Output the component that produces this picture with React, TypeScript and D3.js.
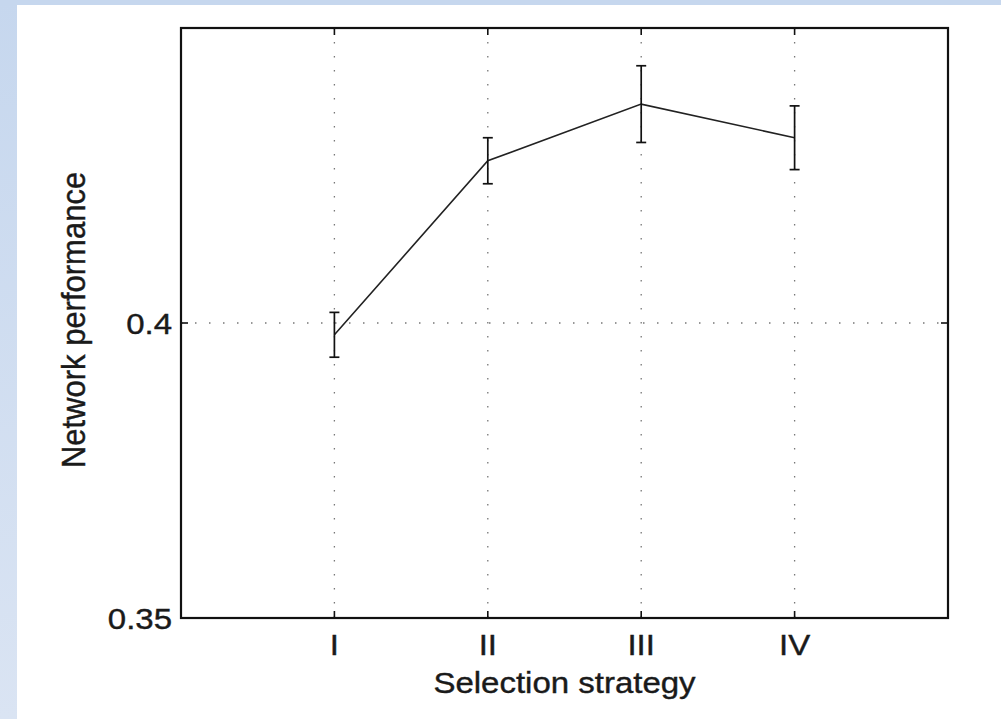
import React, { useEffect, useRef } from "react";
import * as d3 from "d3";

// selection strategies along the x axis
const categories = ["I", "II", "III", "IV"];
// mean network performance per strategy
const means = [0.398, 0.4275, 0.4371, 0.4314];
// half-length of each error bar
const errors = [0.0038, 0.0039, 0.0065, 0.0054];
const yTicks = [0.35, 0.4];
const yTickLabels = ["0.35", "0.4"];

const W = 1001,
  H = 719;

const App = () => {
  const ref = useRef<SVGSVGElement>(null);

  useEffect(() => {
    const svg = d3.select(ref.current);
    svg.selectAll("*").remove();

    const left = 181,
      right = 948,
      top = 28,
      bottom = 618;
    const font = "'Liberation Sans', Arial, Helvetica, sans-serif";
    const stretch = 1.1; // source picture is a bit wider than tall

    // blue frame round the figure
    const defs = svg.append("defs");
    const grad = defs
      .append("linearGradient")
      .attr("id", "frame")
      .attr("x1", 0)
      .attr("y1", 0)
      .attr("x2", 0)
      .attr("y2", 1);
    grad.append("stop").attr("offset", "0%").attr("stop-color", "#c6d7ee");
    grad.append("stop").attr("offset", "100%").attr("stop-color", "#dae4f3");

    svg.append("rect").attr("width", W).attr("height", H).attr("fill", "#fff");
    svg.append("rect").attr("width", 17).attr("height", H).attr("fill", "url(#frame)");
    svg.append("rect").attr("width", W).attr("height", 5).attr("fill", "#c6d7ee");

    const x = d3.scaleLinear().domain([0, 5]).range([left, right]);
    const y = d3.scaleLinear().domain([0.35, 0.45]).range([bottom, top]);
    const xs = categories.map((c, i) => i + 1);

    // dotted grid
    const grid = svg
      .append("g")
      .attr("stroke", "#777")
      .attr("stroke-width", 1.3)
      .attr("stroke-dasharray", "1.5 12.5");
    grid
      .selectAll(".gx")
      .data(xs)
      .enter()
      .append("line")
      .attr("x1", (d) => x(d))
      .attr("x2", (d) => x(d))
      .attr("y1", top)
      .attr("y2", bottom);
    grid
      .selectAll(".gy")
      .data(yTicks.filter((t) => t > 0.35))
      .enter()
      .append("line")
      .attr("x1", left)
      .attr("x2", right)
      .attr("y1", (d) => y(d))
      .attr("y2", (d) => y(d));

    // ticks on all four sides, pointing in
    const ticks = svg.append("g").attr("stroke", "#111").attr("stroke-width", 1.6);
    xs.forEach((d) => {
      ticks.append("line").attr("x1", x(d)).attr("x2", x(d)).attr("y1", bottom).attr("y2", bottom - 7);
      ticks.append("line").attr("x1", x(d)).attr("x2", x(d)).attr("y1", top).attr("y2", top + 7);
    });
    yTicks.forEach((d) => {
      ticks.append("line").attr("x1", left).attr("x2", left + 7).attr("y1", y(d)).attr("y2", y(d));
      ticks.append("line").attr("x1", right).attr("x2", right - 7).attr("y1", y(d)).attr("y2", y(d));
    });

    // axes box
    svg
      .append("rect")
      .attr("x", left)
      .attr("y", top)
      .attr("width", right - left)
      .attr("height", bottom - top)
      .attr("fill", "none")
      .attr("stroke", "#111")
      .attr("stroke-width", 2.2);

    // line
    const line = d3
      .line<number>()
      .x((d, i) => x(xs[i]))
      .y((d) => y(d));
    svg
      .append("path")
      .attr("d", line(means))
      .attr("fill", "none")
      .attr("stroke", "#222")
      .attr("stroke-width", 1.6);

    // error bars
    const eb = svg
      .append("g")
      .attr("stroke", "#111")
      .attr("stroke-width", 1.7)
      .selectAll("g")
      .data(means)
      .enter()
      .append("g");
    eb.append("line")
      .attr("x1", (d, i) => x(xs[i]))
      .attr("x2", (d, i) => x(xs[i]))
      .attr("y1", (d, i) => y(d - errors[i]))
      .attr("y2", (d, i) => y(d + errors[i]));
    eb.append("line")
      .attr("x1", (d, i) => x(xs[i]) - 5)
      .attr("x2", (d, i) => x(xs[i]) + 5)
      .attr("y1", (d, i) => y(d - errors[i]))
      .attr("y2", (d, i) => y(d - errors[i]));
    eb.append("line")
      .attr("x1", (d, i) => x(xs[i]) - 5)
      .attr("x2", (d, i) => x(xs[i]) + 5)
      .attr("y1", (d, i) => y(d + errors[i]))
      .attr("y2", (d, i) => y(d + errors[i]));

    // labels
    const txt = (tx: number, ty: number, s: string, anchor: string, size = 30, rot = 0) =>
      svg
        .append("text")
        .attr(
          "transform",
          `translate(${tx},${ty}) scale(${stretch},1)` + (rot ? ` rotate(${rot})` : "")
        )
        .attr("text-anchor", anchor)
        .attr("font-family", font)
        .attr("font-size", size)
        .attr("fill", "#1a1a1a")
        .attr("stroke", "#1a1a1a")
        .attr("stroke-width", 0.4)
        .text(s);

    categories.forEach((c, i) => txt(x(xs[i]), bottom + 37, c, "middle"));
    yTicks.forEach((t, i) => txt(left - 9, y(t) + 11, yTickLabels[i], "end"));
    txt((left + right) / 2, 693, "Selection strategy", "middle");
    txt(85, 320, "Network performance", "middle", 31, -90);
  }, []);

  return (
    <svg
      ref={ref}
      width={W}
      height={H}
      style={{ position: "absolute", left: 0, top: 0, display: "block" }}
    ></svg>
  );
};

export default App;
